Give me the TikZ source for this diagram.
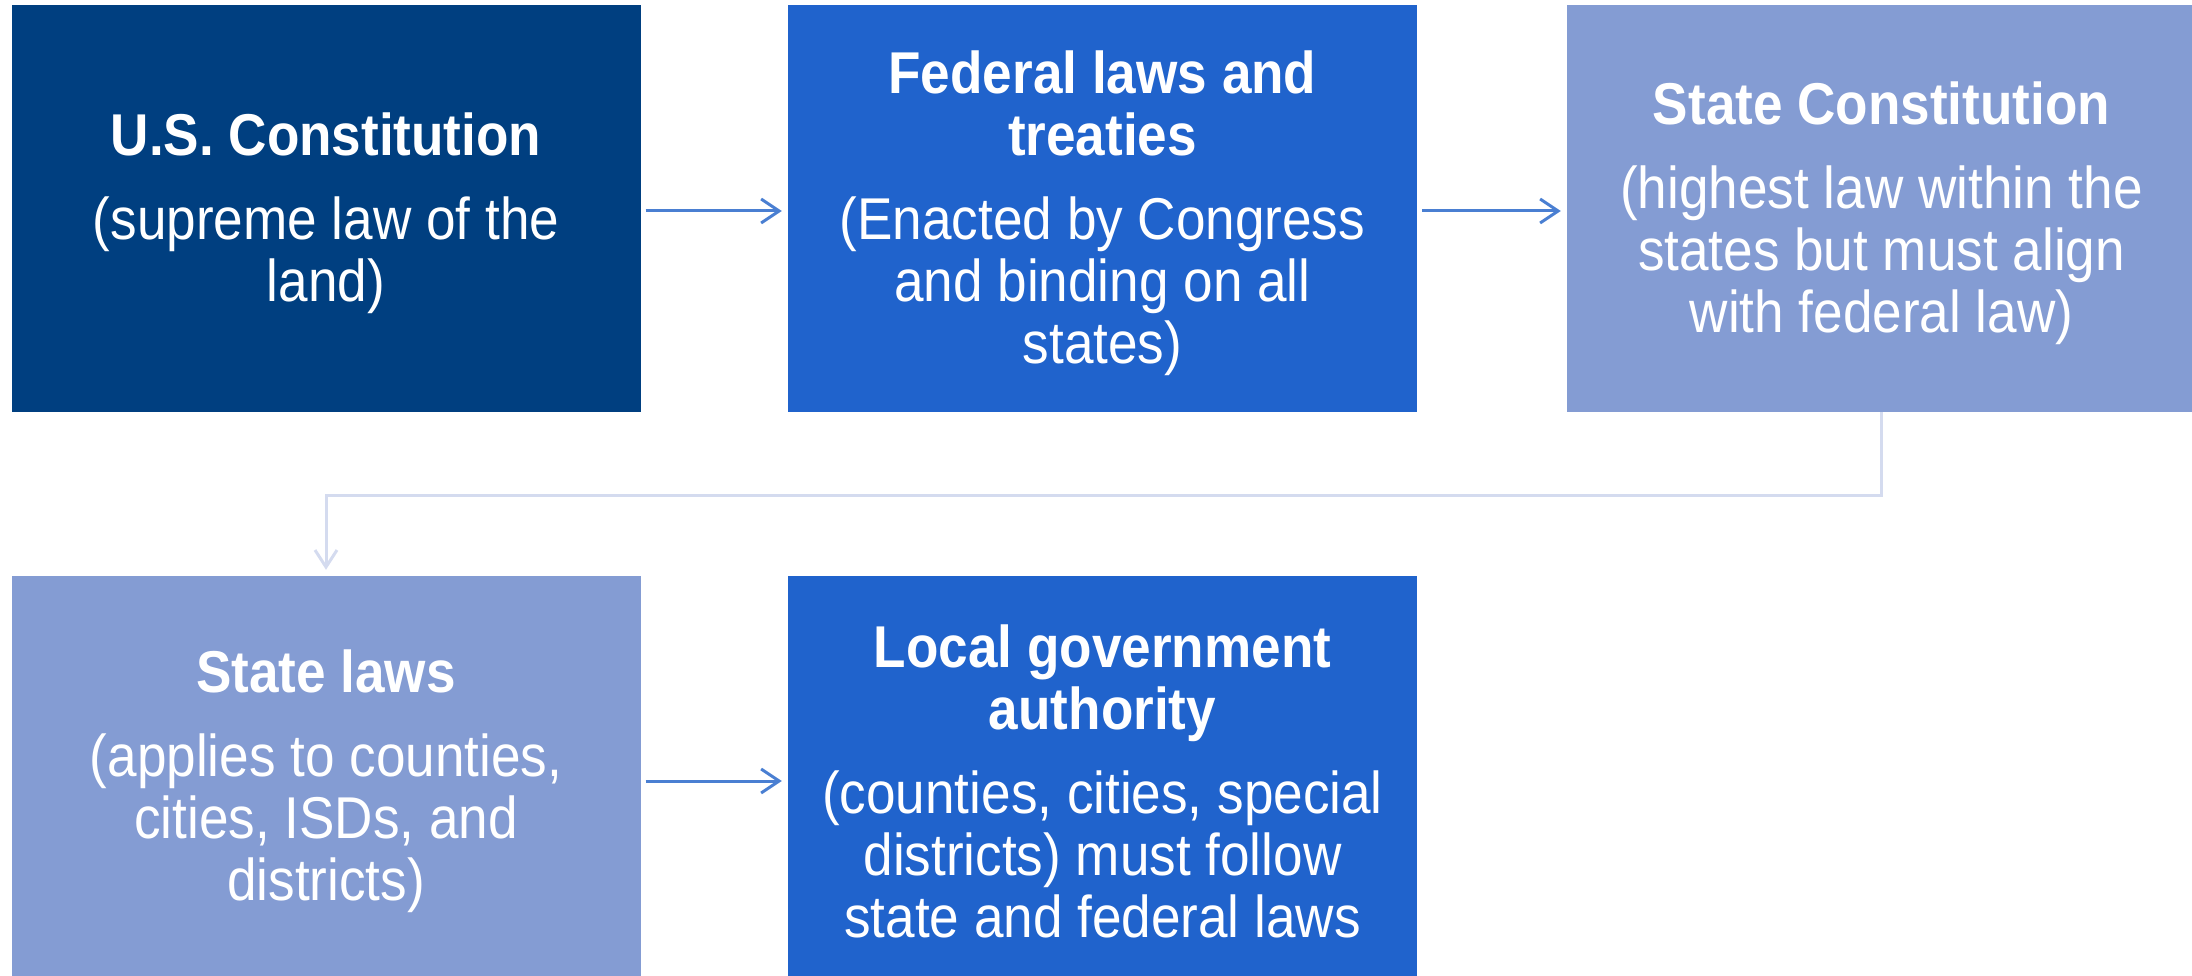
\documentclass[tikz,border=0pt]{standalone}
\usepackage{fontspec}
\setmainfont{Liberation Sans}[FakeStretch=0.9]
\usetikzlibrary{arrows.meta}
\definecolor{navy}{RGB}{0,63,128}
\definecolor{midblue}{RGB}{32,99,204}
\definecolor{lightblue}{RGB}{132,156,211}
\definecolor{arrowblue}{RGB}{74,127,210}
\definecolor{elbowblue}{RGB}{212,219,239}
\begin{document}
\begin{tikzpicture}[x=1pt,y=-1pt,
  box/.style={rectangle, inner sep=0pt, minimum width=629pt, minimum height=407pt},
  txt/.style={inner sep=0pt, text=white, align=center, font=\fontsize{59}{62}\selectfont},
  arr/.style={draw=arrowblue, line width=3pt,
    -{Straight Barb[length=18pt,width=24pt,line width=3pt]}, shorten <=5pt, shorten >=6pt},
  elbow/.style={draw=elbowblue, line width=3pt,
    -{Straight Barb[length=17pt,width=22pt,line width=3pt]}, shorten >=6pt}]
\useasboundingbox (0,0) rectangle (2192,976);
\clip (0,0) rectangle (2192,976);
\node[box, fill=navy] (b1) at (326,208.5) {};
\node[box, fill=midblue] (b2) at (1102.5,208.5) {};
\node[box, fill=lightblue] (b3) at (1881.5,208.5) {};
\node[box, fill=lightblue] (b4) at (326,779.5) {};
\node[box, fill=midblue] (b5) at (1102.5,779.5) {};
\node[txt] (t1) at ([yshift=-5pt]b1.center)
  {\textbf{U.S. Constitution}\\[22pt](supreme law of the\\land)};
\node[txt] (t2) at ([yshift=-5pt]b2.center)
  {\textbf{Federal laws and}\\\textbf{treaties}\\[22pt](Enacted by Congress\\and binding on all\\states)};
\node[txt] (t3) at ([yshift=-5pt]b3.center)
  {\textbf{State Constitution}\\[22pt](highest law within the\\states but must align\\with federal law)};
\node[txt] (t4) at ([yshift=-2pt]b4.center)
  {\textbf{State laws}\\[22pt](applies to counties,\\cities, ISDs, and\\districts)};
\node[txt] (t5) at ([yshift=-2pt]b5.center)
  {\textbf{Local government}\\\textbf{authority}\\[22pt](counties, cities, special\\districts) must follow\\state and federal laws};
\draw[arr] ([yshift=-2.5pt]b1.east) -- ([yshift=-2.5pt]b2.west);
\draw[arr] ([yshift=-2.5pt]b2.east) -- ([yshift=-2.5pt]b3.west);
\draw[arr] ([yshift=-1.5pt]b4.east) -- ([yshift=-1.5pt]b5.west);
\draw[elbow] (b3.south) -- ++(0,83) -| (b4.north);
\end{tikzpicture}
\end{document}
